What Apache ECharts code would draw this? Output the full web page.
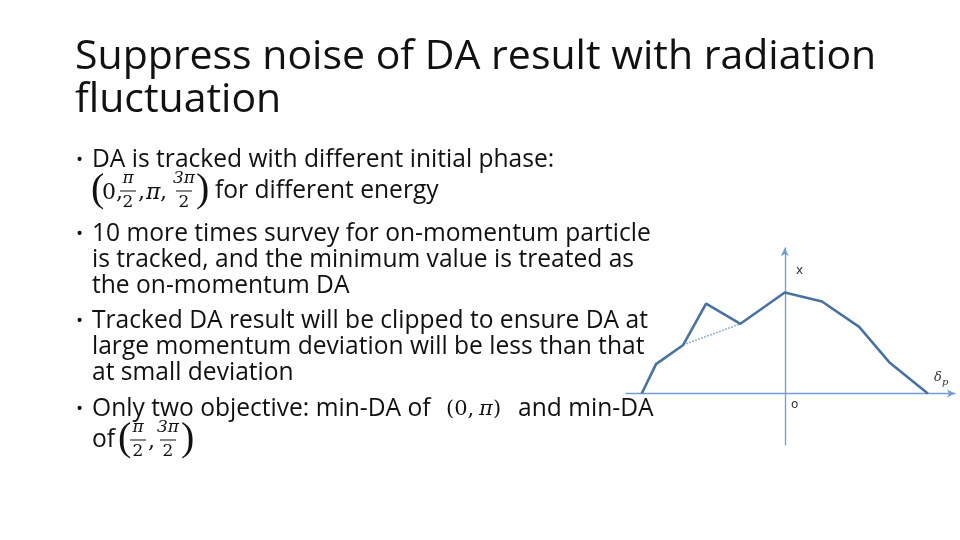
<!DOCTYPE html>
<html><head><meta charset="utf-8">
<script src="https://cdn.jsdelivr.net/npm/echarts@6/dist/echarts.min.js"></script>
<style>html,body{margin:0;padding:0;background:#fff}#c{width:960px;height:540px}</style>
</head><body><div id="c"></div>
<script>
// momentum deviation (normalized) and tracked DA (normalized)
const deltaP = [-1.0, -0.9, -0.71, -0.55, -0.31, 0, 0.26, 0.52, 0.73, 1.0];
const daValues = [0, 0.29, 0.48, 0.89, 0.69, 1.0, 0.91, 0.66, 0.31, 0];
const clipDeltaP = [-0.71, -0.31];
const clipDA = [0.48, 0.69];
const titleLines = ['Suppress noise of DA result with radiation', 'fluctuation'];

const chart = echarts.init(document.getElementById('c'));
const F = '"Open Sans", "Noto Sans", sans-serif';
const M = '"DejaVu Serif", "Liberation Serif", serif';
const INK = '#111';
const BS = 24.6;
function t(x, y, text, size, extra) {
  return {
    type: 'text', x: x, y: y, silent: true,
    style: Object.assign({ text: text, font: size + 'px ' + F, fill: INK, verticalAlign: 'middle', align: 'left' }, (extra || {}))
  };
}
function tm(x, y, text, size, extra) {
  return t(x, y, text, size, Object.assign({ font: (extra && extra.italic ? 'italic ' : '') + size + 'px ' + M }, extra || {}));
}
function frac(cx, yc, num, den) {
  return [
    tm(cx, yc - 12, num, 17, { align: 'center', italic: true }),
    { type: 'line', silent: true, shape: { x1: cx - 8, y1: yc, x2: cx + 8, y2: yc }, style: { stroke: INK, lineWidth: 1 } },
    tm(cx, yc + 12, den, 17, { align: 'center' })
  ];
}
function paren(x, yc, ch) {
  return t(x, yc, ch, 40, { font: '40px "Liberation Serif", serif', verticalAlign: 'middle' });
}

const g = [];
g.push(t(75, 57, titleLines[0], 41));
g.push(t(75, 100, titleLines[1], 41));
const bullets = [160, 234, 321, 409];
bullets.forEach(y => g.push(t(76, y + 1, '•', 19)));
g.push(t(92, 160, 'DA is tracked with different initial phase:', BS));
// (0, π/2, π, 3π/2)
g.push(paren(91, 190, '('));
g.push(tm(102, 193, '0,', 22));
frac(128, 191, 'π', '2').forEach(e => g.push(e));
g.push(tm(138, 193, ',', 22));
g.push(tm(146, 193, 'π', 22, { italic: true }));
g.push(tm(160, 193, ',', 22));
frac(184, 191, '3π', '2').forEach(e => g.push(e));
g.push(paren(196, 190, ')'));
g.push(t(215, 191, 'for different energy', BS));
g.push(t(92, 234, '10 more times survey for on-momentum particle', BS));
g.push(t(92, 260, 'is tracked, and the minimum value is treated as', BS));
g.push(t(92, 286, 'the on-momentum DA', BS));
g.push(t(92, 321, 'Tracked DA result will be clipped to ensure DA at', BS));
g.push(t(92, 347, 'large momentum deviation will be less than that', BS));
g.push(t(92, 373, 'at small deviation', BS));
g.push(t(92, 409, 'Only two objective: min-DA of', BS));
g.push(tm(446, 410, '(0,', 21));
g.push(tm(479, 410, 'π', 21, { italic: true }));
g.push(tm(493, 410, ')', 21));
g.push(t(518, 409, 'and min-DA', BS));
g.push(t(92, 440, 'of', BS));
g.push(paren(118, 439, '('));
frac(138, 440, 'π', '2').forEach(e => g.push(e));
g.push(tm(148, 442, ',', 22));
frac(168, 440, '3π', '2').forEach(e => g.push(e));
g.push(paren(181, 439, ')'));
// axis annotations
g.push(t(796, 271, 'x', 12, { fill: '#333', font: '12px "DejaVu Sans", sans-serif' }));
g.push(t(791, 405, 'o', 12, { fill: '#333', font: '12px "DejaVu Sans", sans-serif' }));
g.push(tm(934, 378, 'δ', 13, { italic: true, fill: '#333' }));
g.push(tm(942, 382, 'p', 10, { italic: true, fill: '#333' }));

const axisColor = '#6f9fd2';
chart.setOption({
  animation: false,
  backgroundColor: '#fff',
  grid: { left: 626, right: 5, top: 248, bottom: 95, containLabel: false },
  xAxis: {
    type: 'value', min: -1.11, max: 1.19,
    axisLine: { onZero: true, symbol: ['none', 'arrow'], symbolSize: [6, 8], lineStyle: { color: axisColor, width: 1.3 } },
    axisTick: { show: false }, axisLabel: { show: false }, splitLine: { show: false }
  },
  yAxis: {
    type: 'value', min: -0.51, max: 1.44,
    axisLine: { onZero: true, symbol: ['none', 'arrow'], symbolSize: [6, 8], lineStyle: { color: axisColor, width: 1.3 } },
    axisTick: { show: false }, axisLabel: { show: false }, splitLine: { show: false }
  },
  series: [
    {
      type: 'line', data: deltaP.map((d, i) => [d, daValues[i]]), symbol: 'none',
      lineStyle: { color: '#4a72a0', width: 2.6 }, z: 3
    },
    {
      type: 'line', data: clipDeltaP.map((d, i) => [d, clipDA[i]]), symbol: 'none',
      lineStyle: { color: '#7fa4cc', width: 1.6, type: 'dotted' }, z: 2
    }
  ],
  graphic: g
});
</script></body></html>
